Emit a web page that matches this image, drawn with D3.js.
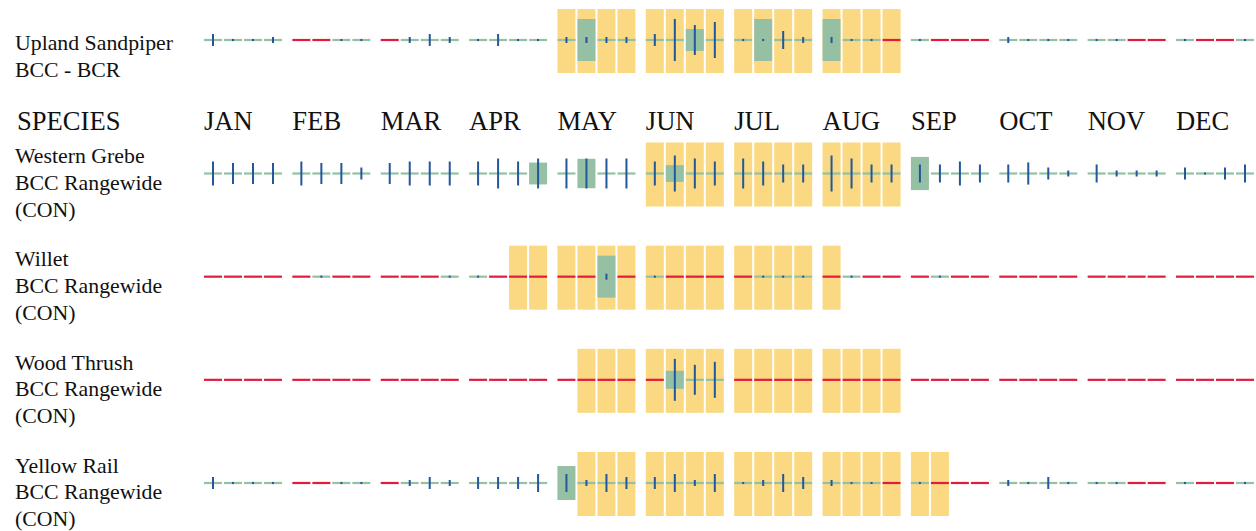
<!DOCTYPE html>
<html>
<head>
<meta charset="utf-8">
<script src="https://cdn.jsdelivr.net/npm/d3@7"></script>
<style>
  html, body { margin: 0; padding: 0; background: #fff; }
  svg { display: block; }
  text { font-family: "Liberation Serif", "Times New Roman", serif; fill: #111; }
</style>
</head>
<body>
<svg id="chart" width="1256" height="531"></svg>
<script>
// ---------- DATA ----------
const months = ["JAN","FEB","MAR","APR","MAY","JUN","JUL","AUG","SEP","OCT","NOV","DEC"];
const weeks = [0, 1, 2, 3];
const headerLabel = "SPECIES";

const species = ["Upland Sandpiper", "Western Grebe", "Willet", "Wood Thrush", "Yellow Rail"];
const speciesStatus = [
  ["BCC - BCR"],
  ["BCC Rangewide", "(CON)"],
  ["BCC Rangewide", "(CON)"],
  ["BCC Rangewide", "(CON)"],
  ["BCC Rangewide", "(CON)"]
];

// probability of presence (0-10) per week, 48 weeks
const probUpland = [0,0,0,0, 0,0,0,0, 0,0,0,0, 0,0,0,0, 0,10,0,0, 0,0,5.2,0, 0,10,0,0, 10,0,0,0, 0,0,0,0, 0,0,0,0, 0,0,0,0, 0,0,0,0];
const probGrebe  = [0,0,0,0, 0,0,0,0, 0,0,0,0, 0,0,0,5.2, 0,7,0,0, 0,4,0,0, 0,0,0,0, 0,0,0,0, 7.9,0,0,0, 0,0,0,0, 0,0,0,0, 0,0,0,0];
const probWillet = [0,0,0,0, 0,0,0,0, 0,0,0,0, 0,0,0,0, 0,0,10,0, 0,0,0,0, 0,0,0,0, 0,0,0,0, 0,0,0,0, 0,0,0,0, 0,0,0,0, 0,0,0,0];
const probThrush = [0,0,0,0, 0,0,0,0, 0,0,0,0, 0,0,0,0, 0,0,0,0, 0,4.3,0,0, 0,0,0,0, 0,0,0,0, 0,0,0,0, 0,0,0,0, 0,0,0,0, 0,0,0,0];
const probRail   = [0,0,0,0, 0,0,0,0, 0,0,0,0, 0,0,0,0, 8.1,0,0,0, 0,0,0,0, 0,0,0,0, 0,0,0,0, 0,0,0,0, 0,0,0,0, 0,0,0,0, 0,0,0,0];

// survey effort (0-10) per week; null = no data
const n = null;
const effortUpland = [2,0.35,0.35,1, n,n,0.35,0.35, n,1,2,1, 0.35,2,0.35,0.35, 1,1,1,1, 2,7,5,6, 0.35,0.35,3,1, 1,0.35,0.35,n, 0.35,n,n,n, 1,0.35,0.35,0.35, 0.35,0.35,n,n, 0.35,n,n,0.35];
const effortGrebe  = [4,3.5,3.5,3.5, 4,3.5,3.5,2, 3.5,4,4,4, 4,5,4,5, 5,5,5,5, 4,6,5,4, 5,4,3,3, 6,5,3,3, 3,3,4,3, 3,3.7,2,1, 3,1,1,1, 2,0.35,2,3];
const effortWillet = [n,n,n,n, n,0.35,n,n, n,n,n,0.35, 0.35,n,n,n, n,n,1,n, 0.35,n,n,n, n,0.35,0.35,0.35, n,0.35,n,n, n,0.35,n,n, n,n,n,n, n,n,n,n, n,n,n,n];
const effortThrush = [n,n,n,n, n,n,n,n, n,n,n,n, n,n,n,n, n,n,n,n, n,7,5,6, n,n,n,n, n,n,n,n, n,n,n,n, n,n,n,n, n,n,n,n, n,n,n,n];
const effortRail   = [2,0.35,0.35,0.35, n,n,0.35,0.35, n,1,2,1, 2,2,2,3, 3,1,3,2, 2,3,1,3, 0.35,1,3,2, 1,0.35,0.35,n, 0.35,n,n,n, 1,0.35,2,0.35, 0.35,0.35,n,n, 0.35,n,n,0.35];

// breeding season: [first week index, last week index]
const breedUpland = [16, 31];
const breedGrebe  = [20, 31];
const breedWillet = [14, 28];
const breedThrush = [17, 31];
const breedRail   = [17, 33];

const probs   = [probUpland, probGrebe, probWillet, probThrush, probRail];
const efforts = [effortUpland, effortGrebe, effortWillet, effortThrush, effortRail];
const breeds  = [breedUpland, breedGrebe, breedWillet, breedThrush, breedRail];

// ---------- STYLE ----------
const COL_BREED = "#FAD982";
const COL_PROB  = "#96C0A4";
const COL_NODATA = "#E31B3C";
const COL_EFFORT = "#22579A";

// ---------- SCALES ----------
const svg = d3.select("#chart");

const xMonth = d3.scaleBand().domain(months).range([204, 1254]).paddingInner(0.11728).paddingOuter(0);
const xWeek = d3.scaleBand().domain(weeks).range([0, xMonth.bandwidth()]).paddingInner(0.1);
const rowY = d3.scalePoint().domain(species.slice(1)).range([173.5, 483]);
const yCenter = s => s === species[0] ? 40 : rowY(s);

const probH = d3.scaleLinear().domain([0, 10]).range([0, 42]);
const effortH = d3.scaleLinear().domain([0, 10]).range([0, 60]);

// ---------- HEADER ----------
svg.append("text").attr("x", 17).attr("y", 130).attr("font-size", 26.6).text(headerLabel);
svg.selectAll("text.month").data(months).join("text")
  .attr("class", "month")
  .attr("x", d => xMonth(d))
  .attr("y", 130)
  .attr("font-size", 26.6)
  .text(d => d);

// ---------- ROWS ----------
species.forEach((sp, si) => {
  const c = yCenter(sp);
  const g = svg.append("g");
  const firstBase = si === 0 ? c + 10 : c - 10.2;
  const lines = [sp].concat(speciesStatus[si]);
  g.selectAll("text.lbl").data(lines).join("text")
    .attr("class", "lbl")
    .attr("x", 15)
    .attr("y", (d, i) => firstBase + i * 26.6)
    .attr("font-size", 21.8)
    .text(d => d);

  const cells = d3.range(48).map(i => ({
    i,
    x: xMonth(months[Math.floor(i / 4)]) + xWeek(i % 4),
    prob: probs[si][i],
    effort: efforts[si][i],
    breeding: i >= breeds[si][0] && i <= breeds[si][1]
  }));
  const bw = xWeek.bandwidth();

  g.selectAll("rect.breed").data(cells.filter(d => d.breeding)).join("rect")
    .attr("class", "breed")
    .attr("x", d => d.x).attr("y", c - 31)
    .attr("width", bw).attr("height", 64)
    .attr("fill", COL_BREED);

  g.selectAll("rect.prob").data(cells.filter(d => d.effort !== null)).join("rect")
    .attr("class", "prob")
    .attr("x", d => d.x)
    .attr("y", d => c - Math.max(2.2, probH(d.prob)) / 2)
    .attr("width", bw)
    .attr("height", d => Math.max(2.2, probH(d.prob)))
    .attr("fill", COL_PROB);

  g.selectAll("rect.nodata").data(cells.filter(d => d.effort === null)).join("rect")
    .attr("class", "nodata")
    .attr("x", d => d.x).attr("y", c - 1.1)
    .attr("width", bw).attr("height", 2.2)
    .attr("fill", COL_NODATA);

  g.selectAll("rect.effort").data(cells.filter(d => d.effort !== null)).join("rect")
    .attr("class", "effort")
    .attr("x", d => d.x + bw / 2 - 1)
    .attr("y", d => c - effortH(d.effort) / 2)
    .attr("width", 2)
    .attr("height", d => effortH(d.effort))
    .attr("fill", COL_EFFORT);
});
</script>
</body>
</html>
